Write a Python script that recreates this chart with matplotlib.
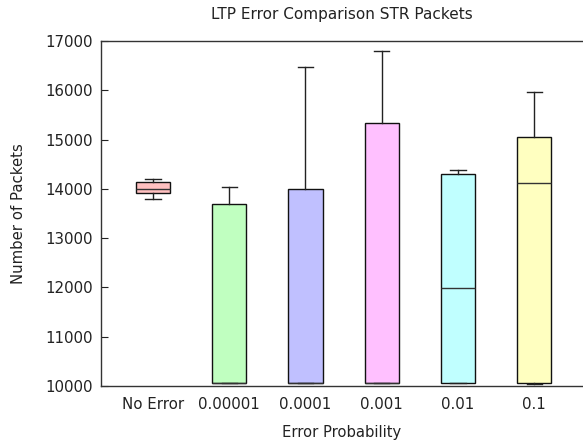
import matplotlib
matplotlib.use("Agg")
import matplotlib.pyplot as plt

categories = ["No Error", "0.00001", "0.0001", "0.001", "0.01", "0.1"]
whisker_low = [13795, 10060, 10060, 10060, 10060, 10050]
q1 = [13910, 10060, 10060, 10060, 10060, 10060]
median = [13990, 10060, 10060, 10060, 11995, 14125]
q3 = [14135, 13700, 13990, 15330, 14300, 15050]
whisker_high = [14200, 14045, 16465, 16800, 14375, 15965]
colors = ["#ffc0c0", "#c0ffc0", "#c0c0ff", "#ffc0ff", "#c0ffff", "#ffffc0"]

fig = plt.figure(figsize=(5.83, 4.44), dpi=100)
ax = fig.add_axes([101/583, 58/444, 1 - 101/583, (386-41)/444])

stats = []
for i, c in enumerate(categories):
    stats.append(dict(label=c, whislo=whisker_low[i], q1=q1[i], med=median[i],
                      q3=q3[i], whishi=whisker_high[i]))

pos = list(range(1, len(categories) + 1))
bp = ax.bxp(stats, positions=pos, widths=0.45, patch_artist=True, showfliers=False,
            capwidths=0.2,
            boxprops=dict(edgecolor="#111111", linewidth=1.0),
            whiskerprops=dict(color="#222222", linewidth=1.0),
            capprops=dict(color="#222222", linewidth=1.0),
            medianprops=dict(color="#333333", linewidth=1.0))
for patch, col in zip(bp["boxes"], colors):
    patch.set_facecolor(col)

ax.set_xlim(0.318, 6.64)
ax.set_ylim(10000, 17000)
ax.set_yticks(range(10000, 17001, 1000))
ax.set_xticks(pos)
ax.set_xticklabels(categories)
ax.tick_params(axis="y", direction="in", length=5, labelsize=10.8, colors="#222222", pad=6)
ax.tick_params(axis="x", length=0, labelsize=10.8, colors="#222222", pad=8)
for s in ["left", "top", "bottom"]:
    ax.spines[s].set_color("#333333")
    ax.spines[s].set_linewidth(1.0)
ax.spines["right"].set_visible(False)

ax.set_title("LTP Error Comparison STR Packets", fontsize=11, color="#222222", pad=16)
ax.set_xlabel("Error Probability", fontsize=10.6, color="#222222", labelpad=9.5)
ax.set_ylabel("Number of Packets", fontsize=10.7, color="#222222", labelpad=14)

fig.savefig("out.png", dpi=100)
